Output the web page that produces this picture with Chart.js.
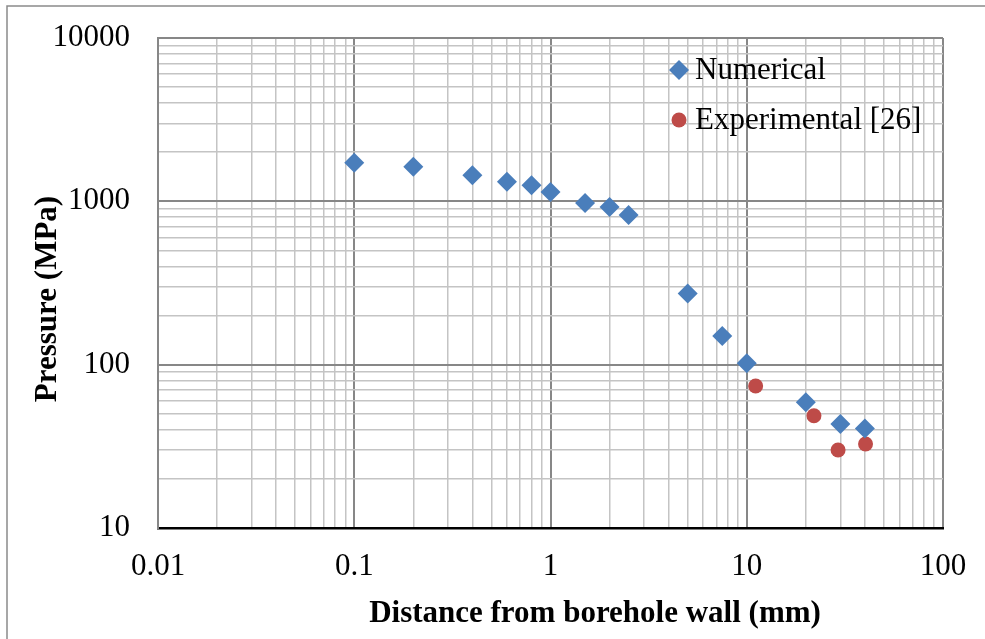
<!DOCTYPE html>
<html>
<head>
<meta charset="utf-8">
<script src="https://cdn.jsdelivr.net/npm/chart.js@4.4.0/dist/chart.umd.min.js"></script>
<style>
html,body{margin:0;padding:0;background:#fff;}
#wrap{width:985px;height:639px;position:relative;}
</style>
</head>
<body>
<div id="wrap"><canvas id="c" width="985" height="639"></canvas></div>
<script>
const numericalX = [0.1, 0.2, 0.4, 0.6, 0.8, 1, 1.5, 2, 2.5, 5, 7.5, 10, 20, 30, 40];
const numericalY = [1724, 1629, 1443, 1319, 1254, 1141, 977, 923, 825, 273, 150, 102, 58.8, 43.3, 40.6];
const experimentalX = [11.1, 22, 29.2, 40.3];
const experimentalY = [74, 48.7, 30, 32.7];
const seriesNames = ['Numerical', 'Experimental [26]'];
const xMajorTicks = [0.01, 0.1, 1, 10, 100];
const yMajorTicks = [10, 100, 1000, 10000];
const xTitle = 'Distance from borehole wall (mm)';
const yTitle = 'Pressure (MPa)';

const FONT = '"Liberation Serif", "Times New Roman", serif';

function withMinor(majors) {
  const out = [];
  for (let i = 0; i < majors.length; i++) {
    out.push(majors[i]);
    if (i < majors.length - 1) {
      for (let k = 2; k <= 9; k++) out.push(+(majors[i] * k).toPrecision(6));
    }
  }
  return out;
}
function isMajor(v, majors) { return majors.some(m => Math.abs(m - v) / m < 1e-6); }

const pts = (xs, ys) => xs.map((x, i) => ({x: x, y: ys[i]}));

const decorPlugin = {
  id: 'decor',
  beforeDraw(chart) {
    const ctx = chart.ctx;
    ctx.save();
    ctx.fillStyle = '#fff';
    ctx.fillRect(0, 0, chart.width, chart.height);
    ctx.strokeStyle = '#8a8a8a';
    ctx.lineWidth = 1.5;
    ctx.beginPath();
    ctx.moveTo(7, 700); ctx.lineTo(7, 6); ctx.lineTo(1100, 6);
    ctx.stroke();
    ctx.restore();
  },
  afterDraw(chart) {
    const ctx = chart.ctx;
    ctx.save();
    ctx.fillStyle = '#000';
    ctx.font = 'bold 31px ' + FONT;
    ctx.textAlign = 'center';
    ctx.textBaseline = 'middle';
    ctx.fillText(xTitle, 595, 614);
    ctx.translate(48, 299);
    ctx.rotate(-Math.PI / 2);
    ctx.fillText(yTitle, 0, 0);
    ctx.restore();
    ctx.save();
    const rows = [70, 120];
    chart.data.datasets.forEach((ds, i) => {
      const y = rows[i];
      const x = 679;
      ctx.fillStyle = ds.backgroundColor;
      ctx.beginPath();
      if (ds.pointStyle === 'rectRot') {
        const r = ds.pointRadius;
        ctx.moveTo(x - r, y); ctx.lineTo(x, y - r); ctx.lineTo(x + r, y); ctx.lineTo(x, y + r);
        ctx.closePath();
      } else {
        ctx.arc(x, y, ds.pointRadius, 0, Math.PI * 2);
      }
      ctx.fill();
      ctx.fillStyle = '#000';
      ctx.font = '31px ' + FONT;
      ctx.textAlign = 'left';
      ctx.textBaseline = 'middle';
      ctx.fillText(ds.label, 695, y + 1);
    });
    ctx.restore();
  }
};

new Chart(document.getElementById('c'), {
  type: 'scatter',
  data: {
    datasets: [
      {
        label: seriesNames[0],
        data: pts(numericalX, numericalY),
        pointStyle: 'rectRot',
        pointRadius: 10,
        pointHoverRadius: 10,
        backgroundColor: '#4a7ebb',
        borderColor: '#4a7ebb',
        borderWidth: 0
      },
      {
        label: seriesNames[1],
        data: pts(experimentalX, experimentalY),
        pointStyle: 'circle',
        pointRadius: 7.5,
        pointHoverRadius: 7.5,
        backgroundColor: '#be4b48',
        borderColor: '#be4b48',
        borderWidth: 0
      }
    ]
  },
  options: {
    responsive: false,
    animation: false,
    events: [],
    layout: { padding: { left: 0, top: 38, right: 42, bottom: 0 } },
    plugins: { legend: { display: false }, tooltip: { enabled: false } },
    scales: {
      x: {
        type: 'logarithmic',
        min: xMajorTicks[0],
        max: xMajorTicks[xMajorTicks.length - 1],
        afterBuildTicks(scale) {
          scale.ticks = withMinor(xMajorTicks).map(v => ({value: v}));
        },
        afterFit(scale) { scale.height = 111; scale.paddingLeft = 0; scale.paddingRight = 0; },
        ticks: {
          autoSkip: false,
          maxRotation: 0,
          padding: 20,
          color: '#000',
          font: { family: FONT, size: 31 },
          callback: (v) => isMajor(v, xMajorTicks) ? String(v) : ''
        },
        grid: {
          drawTicks: false,
          color: (c) => isMajor(c.tick.value, xMajorTicks) ? '#878787' : '#c4c4c4',
          lineWidth: (c) => isMajor(c.tick.value, xMajorTicks) ? 2 : 1.5
        },
        border: { display: true, color: '#000', width: 2.5 }
      },
      y: {
        type: 'logarithmic',
        min: yMajorTicks[0],
        max: yMajorTicks[yMajorTicks.length - 1],
        afterBuildTicks(scale) {
          scale.ticks = withMinor(yMajorTicks).map(v => ({value: v}));
        },
        afterFit(scale) { scale.width = 158; scale.paddingTop = 0; scale.paddingBottom = 0; },
        ticks: {
          autoSkip: false,
          padding: 28,
          color: '#000',
          font: { family: FONT, size: 31 },
          callback: (v) => isMajor(v, yMajorTicks) ? String(v) : ''
        },
        grid: {
          drawTicks: false,
          color: (c) => isMajor(c.tick.value, yMajorTicks) ? '#878787' : '#c4c4c4',
          lineWidth: (c) => isMajor(c.tick.value, yMajorTicks) ? 2 : 1.5
        },
        border: { display: true, color: '#878787', width: 2 }
      }
    }
  },
  plugins: [decorPlugin]
});
</script>
</body>
</html>
